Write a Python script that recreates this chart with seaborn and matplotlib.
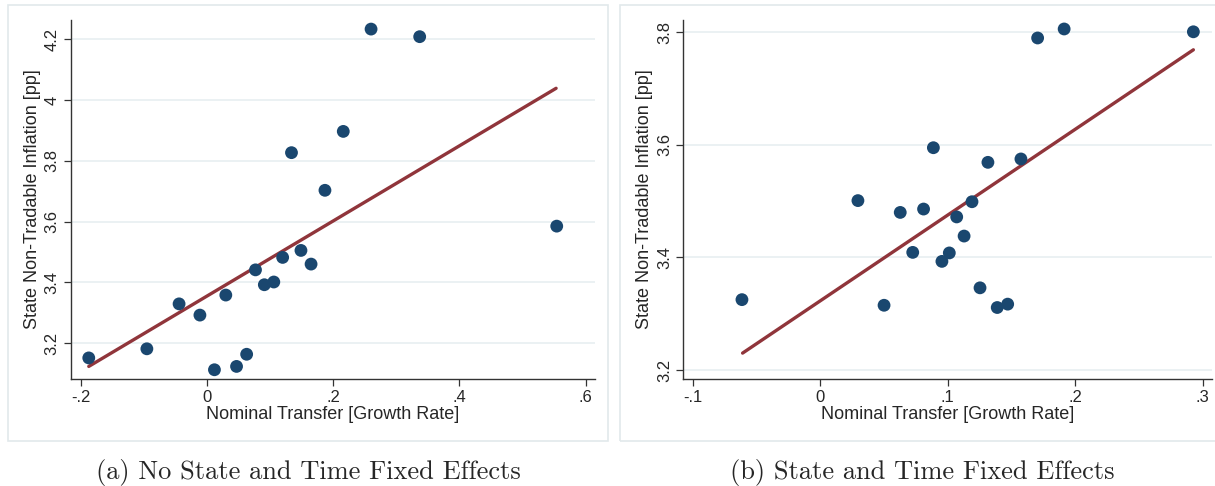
import matplotlib
matplotlib.use("Agg")
import matplotlib.pyplot as plt
import matplotlib.patches as mpatches
import seaborn as sns
import pandas as pd

# panel (a): no state and time fixed effects
x_a = [-0.187, -0.095, -0.044, -0.011, 0.012, 0.030, 0.047, 0.063, 0.077, 0.091,
       0.106, 0.120, 0.134, 0.149, 0.165, 0.187, 0.216, 0.260, 0.337, 0.554]
y_a = [3.151, 3.181, 3.329, 3.292, 3.112, 3.358, 3.123, 3.163, 3.441, 3.392,
       3.401, 3.482, 3.827, 3.505, 3.460, 3.703, 3.897, 4.234, 4.209, 3.585]
fit_x_a = [-0.187, 0.553]
fit_y_a = [3.123, 4.039]

# panel (b): state and time fixed effects
x_b = [-0.0615, 0.0295, 0.050, 0.0627, 0.0725, 0.081, 0.0887, 0.0954, 0.1012, 0.107,
       0.1128, 0.119, 0.1253, 0.1315, 0.1388, 0.147, 0.1574, 0.1705, 0.1913, 0.2927]
y_b = [3.325, 3.501, 3.315, 3.480, 3.409, 3.486, 3.595, 3.393, 3.408, 3.472,
       3.438, 3.499, 3.346, 3.569, 3.311, 3.317, 3.575, 3.790, 3.806, 3.801]
fit_x_b = [-0.061, 0.2927]
fit_y_b = [3.230, 3.769]

xticks_a = [-0.2, 0, 0.2, 0.4, 0.6]
xlabels_a = ["-.2", "0", ".2", ".4", ".6"]
yticks_a = [3.2, 3.4, 3.6, 3.8, 4.0, 4.2]
ylabels_a = ["3.2", "3.4", "3.6", "3.8", "4", "4.2"]

xticks_b = [-0.1, 0, 0.1, 0.2, 0.3]
xlabels_b = ["-.1", "0", ".1", ".2", ".3"]
yticks_b = [3.2, 3.4, 3.6, 3.8]
ylabels_b = ["3.2", "3.4", "3.6", "3.8"]

xlabel = "Nominal Transfer [Growth Rate]"
ylabel = "State Non-Tradable Inflation [pp]"
captions = ["(a) No State and Time Fixed Effects", "(b) State and Time Fixed Effects"]

sns.set_theme(style="white")
plt.rcParams["font.family"] = ["Liberation Sans", "DejaVu Sans"]

navy = "#1a476f"
maroon = "#90353b"

fig = plt.figure(figsize=(12.15, 4.86), dpi=100)

# light panel frames like the Stata graph region
for x0, w in [(8, 600), (620, 600)]:
    fig.patches.append(mpatches.Rectangle((x0 / 1215, 1 - 441 / 486), w / 1215, 436 / 486,
                                          transform=fig.transFigure, fill=False,
                                          edgecolor="#e2e9eb", linewidth=1.2))

ax_a = fig.add_axes([0.0583, 0.2202, 0.4311, 0.7387])
ax_b = fig.add_axes([0.5623, 0.2202, 0.4349, 0.7387])

panels = [
    (ax_a, x_a, y_a, fit_x_a, fit_y_a, xticks_a, xlabels_a, yticks_a, ylabels_a,
     (-0.2154, 0.614), (3.0816, 4.264)),
    (ax_b, x_b, y_b, fit_x_b, fit_y_b, xticks_b, xlabels_b, yticks_b, ylabels_b,
     (-0.1076, 0.307), (3.184, 3.822)),
]

for ax, xs, ys, fx, fy, xt, xl, yt, yl, xlim, ylim in panels:
    df = pd.DataFrame({"x": xs, "y": ys})
    fit = pd.DataFrame({"x": fx, "y": fy})
    sns.lineplot(data=fit, x="x", y="y", ax=ax, color=maroon, linewidth=2.4, zorder=2)
    sns.scatterplot(data=df, x="x", y="y", ax=ax, color=navy, s=85, edgecolor="none", zorder=3)
    ax.set_xlim(*xlim)
    ax.set_ylim(*ylim)
    ax.set_xticks(xt)
    ax.set_xticklabels(xl, fontsize=12)
    ax.set_yticks(yt)
    ax.set_yticklabels(yl, fontsize=12, rotation=90, va="center")
    ax.yaxis.grid(True, color="#e8eff1", linewidth=1.2)
    ax.xaxis.grid(False)
    ax.set_axisbelow(True)
    for s in ["top", "right"]:
        ax.spines[s].set_visible(False)
    for s in ["left", "bottom"]:
        ax.spines[s].set_color("#333333")
        ax.spines[s].set_linewidth(1.0)
    ax.tick_params(axis="both", direction="out", length=5, width=0.9, color="#333333",
                   bottom=True, left=True, pad=3)
    ax.set_xlabel(xlabel, fontsize=13, labelpad=1)
    ax.set_ylabel(ylabel, fontsize=13, labelpad=3)

fig.text(308 / 1215, 1 - 472 / 486, captions[0], ha="center", va="center",
         fontsize=19, family="cmr10")
fig.text(922 / 1215, 1 - 472 / 486, captions[1], ha="center", va="center",
         fontsize=19, family="cmr10")

fig.savefig("out.png", dpi=100)
